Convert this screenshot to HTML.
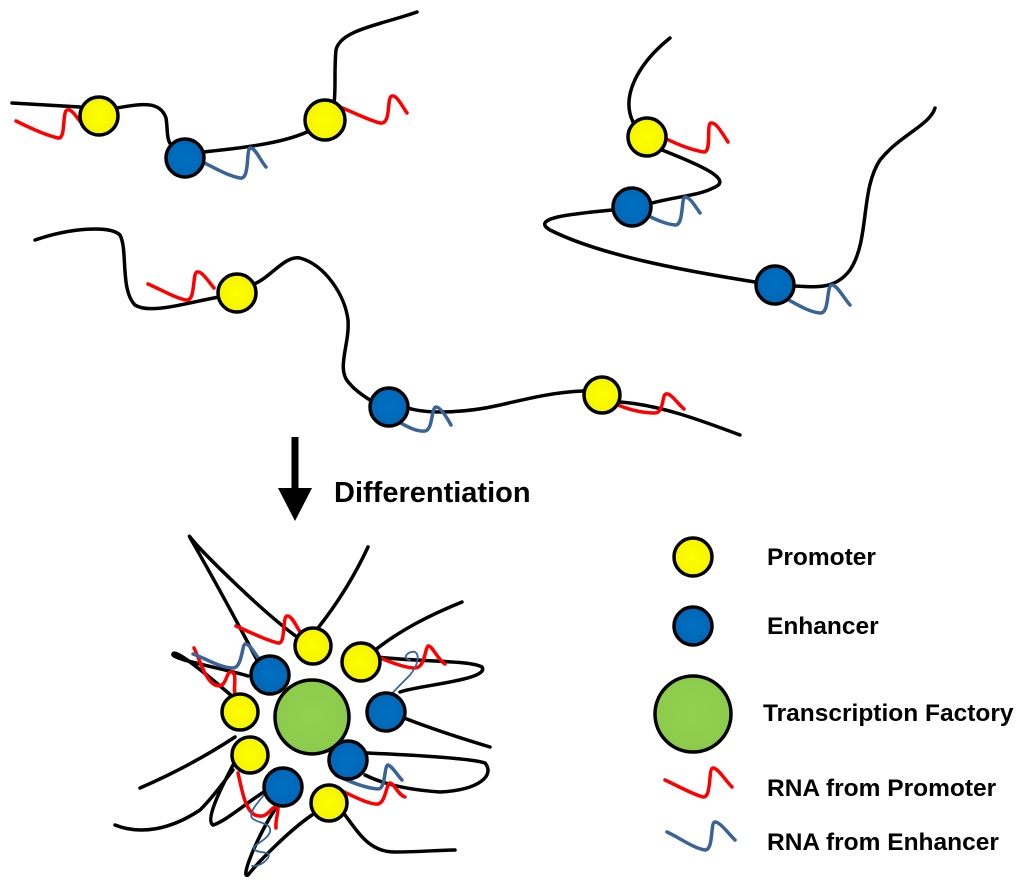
<!DOCTYPE html>
<html><head><meta charset="utf-8"><style>
html,body{margin:0;padding:0;background:#fff;}
svg{display:block;}
text{font-family:"Liberation Sans",Arial,sans-serif;font-weight:bold;font-size:24.5px;fill:#000;}
</style></head><body>
<svg width="1024" height="891" viewBox="0 0 1024 891" xmlns="http://www.w3.org/2000/svg">
<defs>
<radialGradient id="gy" cx="50%" cy="50%" r="55%"><stop offset="0" stop-color="#ffff00"/><stop offset="0.8" stop-color="#f5f500"/><stop offset="1" stop-color="#c8c800"/></radialGradient>
<radialGradient id="gb" cx="50%" cy="50%" r="55%"><stop offset="0" stop-color="#0070c0"/><stop offset="0.8" stop-color="#0068b8"/><stop offset="1" stop-color="#004f90"/></radialGradient>
<radialGradient id="gg" cx="50%" cy="50%" r="55%"><stop offset="0" stop-color="#92d050"/><stop offset="0.85" stop-color="#8ccb4c"/><stop offset="1" stop-color="#6fa83a"/></radialGradient>
</defs>
<g fill="none" stroke="#000" stroke-width="3.5" stroke-linecap="round">
<path d="M12,103 L80,107 M117,108 C140,104 160,100 166,118 C168,130 166,140 172,146 M203,152 C240,148 280,144 307,132 M334,103 C336,90 334,70 336,50 C340,30 380,25 417,12"/>
<path d="M670,38 C640,62 620,95 633,122 M662,150 C700,165 735,180 713,188 C700,195 680,196 652,203 M612,210 C570,214 530,218 550,230 C600,255 680,270 755,282 M795,286 C815,287 835,290 850,270 C870,240 860,190 880,160 C900,135 930,125 935,108"/>
<path d="M35,240 C70,228 110,225 120,235 C128,250 120,290 135,305 C150,315 190,302 219,297 M254,284 C270,278 285,255 300,258 C325,265 345,295 348,320 C350,345 335,370 350,384 C355,390 362,395 370,400 M408,408 C430,415 470,412 500,405 C530,398 555,392 583,391 M620,402 C660,405 700,420 740,435"/>
<path d="M297,637 C260,610 200,550 190,537 C185,530 210,570 257,660"/>
<path d="M318,628 C340,600 355,575 368,547"/>
<path d="M374,651 C400,630 430,615 462,602"/>
<path d="M377,657 C420,662 470,660 482,667 C490,680 420,685 400,692"/>
<path d="M404,718 C430,728 460,738 490,747"/>
<path d="M367,753 C410,755 470,758 485,763 C495,775 480,790 440,792 C410,790 385,785 365,775"/>
<path d="M345,815 C360,835 370,852 395,852 C420,852 440,850 455,850"/>
<path d="M312,815 C290,830 260,860 248,875 C240,880 255,840 277,806"/>
<path d="M233,765 C220,790 205,820 213,825 C225,822 250,800 267,790"/>
<path d="M140,788 C170,775 200,760 235,737"/>
<path d="M115,825 C140,835 170,830 200,810 C215,795 225,780 233,770"/>
<path d="M248,676 C230,670 175,660 173,655 C172,648 190,660 233,697"/>
</g>
<g fill="none" stroke="#ff0000" stroke-width="3.5" stroke-linecap="round" stroke-linejoin="round">
<path d="M16,121 C30,128 45,135 58,138 C66,140 62,112 67,110 C72,108 78,120 84,126"/>
<path d="M340,107 C355,113 368,120 380,123 C392,125 386,97 392,96 C397,95 402,106 407,113"/>
<path d="M148,284 C162,290 175,298 186,300 C196,302 192,273 197,272 C202,271 208,281 214,288"/>
<path d="M618,405 C630,410 642,413 655,413 C664,413 662,394 666,394 C671,393 677,403 684,409"/>
<path d="M662,137 C675,143 690,150 704,152 C712,152 706,123 711,123 C716,122 722,133 728,142"/>
<path d="M236,626 C250,632 265,640 278,643 C286,645 282,617 287,616 C292,615 297,628 302,635"/>
<path d="M194,648 C200,660 205,680 215,685 C228,690 225,670 232,672 C238,675 232,690 236,698"/>
<path d="M378,657 C390,662 405,668 415,668 C425,668 425,648 428,646 C432,645 438,660 445,664"/>
<path d="M238,773 C242,790 245,810 255,815 C268,820 270,807 277,806 C280,808 275,820 276,828"/>
<path d="M340,790 C355,797 370,805 378,804 C386,802 386,784 390,783 C394,783 398,795 405,797"/>
<path d="M665,780 C678,786 692,794 703,797 C712,798 708,768 713,768 C718,768 725,780 732,787"/>
</g>
<g fill="none" stroke="#3a6496" stroke-width="3.5" stroke-linecap="round" stroke-linejoin="round">
<path d="M200,161 C212,166 225,175 240,178 C250,180 246,150 250,148 C255,147 260,160 266,167"/>
<path d="M635,210 C648,215 662,224 675,225 C684,226 681,197 685,197 C690,197 695,206 700,213"/>
<path d="M783,297 C795,303 808,312 820,313 C830,314 826,285 832,285 C837,285 843,297 850,305"/>
<path d="M395,420 C405,425 415,432 425,431 C433,430 431,408 436,407 C440,407 446,416 451,425"/>
<path d="M193,654 C205,658 220,668 233,668 C242,668 242,645 245,644 C250,643 255,655 260,660"/>
<path d="M336,775 C350,782 365,788 378,789 C386,789 384,765 388,765 C392,766 398,776 402,780"/>
<path d="M667,832 C680,838 693,848 705,850 C714,850 710,822 715,822 C720,822 728,833 735,840"/>
</g>
<g fill="none" stroke="#3a6496" stroke-width="1.8" stroke-linecap="round">
<path d="M383,703 C395,690 405,680 410,675 C418,665 420,655 415,652 C410,650 400,658 410,660"/>
<path d="M270,788 C260,800 248,812 252,818 C258,824 272,822 270,832 C266,842 250,845 255,850 C260,854 272,850 268,858 C262,866 255,866 252,866"/>
</g>
<g stroke="#000" stroke-width="3.5">
<circle cx="99" cy="116" r="19" fill="url(#gy)"/>
<circle cx="185" cy="158" r="19" fill="url(#gb)"/>
<circle cx="325" cy="120" r="20" fill="url(#gy)"/>
<circle cx="647" cy="137" r="19" fill="url(#gy)"/>
<circle cx="632" cy="207" r="19" fill="url(#gb)"/>
<circle cx="775" cy="285" r="19" fill="url(#gb)"/>
<circle cx="237" cy="293" r="19" fill="url(#gy)"/>
<circle cx="389" cy="407" r="19" fill="url(#gb)"/>
<circle cx="602" cy="395" r="18" fill="url(#gy)"/>
<circle cx="312" cy="717" r="37" fill="url(#gg)"/>
<circle cx="313" cy="646" r="18" fill="url(#gy)"/>
<circle cx="361" cy="662" r="19" fill="url(#gy)"/>
<circle cx="240" cy="712" r="18" fill="url(#gy)"/>
<circle cx="250" cy="755" r="18" fill="url(#gy)"/>
<circle cx="329" cy="803" r="18" fill="url(#gy)"/>
<circle cx="270" cy="675" r="19" fill="url(#gb)"/>
<circle cx="386" cy="712" r="19" fill="url(#gb)"/>
<circle cx="348" cy="760" r="19" fill="url(#gb)"/>
<circle cx="283" cy="787" r="19" fill="url(#gb)"/>
<circle cx="693" cy="557" r="19" fill="url(#gy)"/>
<circle cx="693" cy="626" r="19" fill="url(#gb)"/>
<circle cx="693" cy="714" r="38" fill="url(#gg)"/>
</g>
<line x1="295" y1="437" x2="295" y2="495" stroke="#000" stroke-width="7"/>
<polygon points="278,488 312,488 295,521" fill="#000"/>
<text x="334" y="502" style="font-size:29px">Differentiation</text>
<text x="767" y="565">Promoter</text>
<text x="767" y="634">Enhancer</text>
<text x="763" y="721">Transcription Factory</text>
<text x="767" y="796">RNA from Promoter</text>
<text x="767" y="850">RNA from Enhancer</text>
</svg>
</body></html>
